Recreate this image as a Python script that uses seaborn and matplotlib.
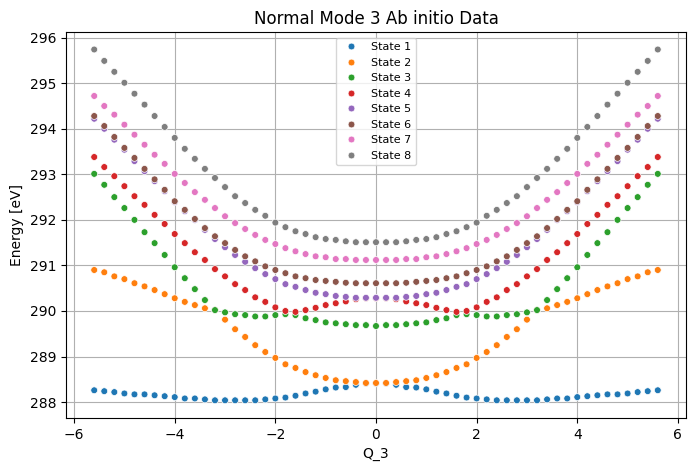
import pandas as pd
import numpy as np
import matplotlib
matplotlib.use("Agg")
import matplotlib.pyplot as plt
import seaborn as sns

# -------------------------
# Data (Q grid and eight electronic states)
# -------------------------
q_values = [-5.6, -5.4, -5.2, -5.0, -4.8, -4.6, -4.4, -4.2, -4.0, -3.8,
            -3.6, -3.4, -3.2, -3.0, -2.8, -2.6, -2.4, -2.2, -2.0, -1.8,
            -1.6, -1.4, -1.2, -1.0, -0.8, -0.6, -0.4, -0.2, 0.0, 0.2,
            0.4, 0.6, 0.8, 1.0, 1.2, 1.4, 1.6, 1.8, 2.0, 2.2,
            2.4, 2.6, 2.8, 3.0, 3.2, 3.4, 3.6, 3.8, 4.0, 4.2,
            4.4, 4.6, 4.8, 5.0, 5.2, 5.4, 5.6]

state_1 = [288.26, 288.24, 288.22, 288.19, 288.17, 288.17, 288.15, 288.13, 288.11, 288.08,
           288.08, 288.06, 288.04, 288.04, 288.04, 288.04, 288.04, 288.06, 288.08, 288.10,
           288.14, 288.19, 288.23, 288.28, 288.32, 288.33, 288.38, 288.41,
           288.41, 288.41, 288.38, 288.33, 288.32, 288.28, 288.23, 288.19, 288.14, 288.10,
           288.08, 288.06, 288.04, 288.04, 288.04, 288.04, 288.04, 288.06, 288.08, 288.08,
           288.11, 288.13, 288.15, 288.17, 288.17, 288.19, 288.22, 288.24, 288.26]

state_2 = [290.90, 290.85, 290.76, 290.70, 290.61, 290.54, 290.46, 290.37, 290.28, 290.20,
           290.13, 290.06, 290.02, 289.81, 289.60, 289.43, 289.25, 289.10, 288.97, 288.83,
           288.75, 288.66, 288.59, 288.53, 288.48, 288.46, 288.44, 288.42,
           288.42, 288.42, 288.44, 288.46, 288.48, 288.53, 288.59, 288.66, 288.75, 288.83,
           288.97, 289.10, 289.25, 289.43, 289.60, 289.81, 290.02, 290.06, 290.13, 290.20,
           290.28, 290.37, 290.46, 290.54, 290.61, 290.70, 290.76, 290.85, 290.90]

state_3 = [293.01, 292.77, 292.50, 292.26, 292.00, 291.73, 291.49, 291.23, 290.96, 290.72,
           290.48, 290.24, 290.02, 289.97, 289.93, 289.91, 289.88, 289.88, 289.91, 289.93,
           289.91, 289.84, 289.80, 289.75, 289.73, 289.71, 289.69, 289.69,
           289.67, 289.69, 289.69, 289.71, 289.73, 289.75, 289.80, 289.84, 289.91, 289.93,
           289.91, 289.88, 289.88, 289.91, 289.93, 289.97, 290.02, 290.24, 290.48, 290.72,
           290.96, 291.23, 291.49, 291.73, 292.00, 292.26, 292.50, 292.77, 293.01]

state_4 = [293.38, 293.16, 292.96, 292.74, 292.52, 292.33, 292.11, 291.91, 291.69, 291.49,
           291.29, 291.12, 290.92, 290.76, 290.59, 290.46, 290.30, 290.20, 290.08, 290.00,
           289.98, 290.02, 290.07, 290.13, 290.17, 290.21, 290.26, 290.28,
           290.28, 290.28, 290.26, 290.21, 290.17, 290.13, 290.07, 290.02, 289.98, 290.00,
           290.08, 290.20, 290.30, 290.46, 290.59, 290.76, 290.92, 291.12, 291.29, 291.49,
           291.69, 291.91, 292.11, 292.33, 292.52, 292.74, 292.96, 293.16, 293.38]

state_5 = [294.22, 294.00, 293.76, 293.54, 293.29, 293.07, 292.85, 292.63, 292.39, 292.19,
           292.00, 291.78, 291.58, 291.40, 291.23, 291.08, 290.94, 290.81, 290.70, 290.59,
           290.53, 290.46, 290.40, 290.37, 290.33, 290.31, 290.29, 290.29,
           290.29, 290.29, 290.29, 290.31, 290.33, 290.37, 290.40, 290.46, 290.53, 290.59,
           290.70, 290.81, 290.94, 291.08, 291.23, 291.40, 291.58, 291.78, 292.00, 292.19,
           292.39, 292.63, 292.85, 293.07, 293.29, 293.54, 293.76, 294.00, 294.22]

state_6 = [294.28, 294.06, 293.82, 293.58, 293.36, 293.12, 292.89, 292.66, 292.41, 292.22,
           292.02, 291.82, 291.64, 291.49, 291.34, 291.20, 291.09, 290.98, 290.90, 290.83,
           290.76, 290.72, 290.68, 290.66, 290.64, 290.62, 290.61, 290.61,
           290.61, 290.61, 290.61, 290.62, 290.64, 290.66, 290.68, 290.72, 290.76, 290.83,
           290.90, 290.98, 291.09, 291.20, 291.34, 291.49, 291.64, 291.82, 292.02, 292.22,
           292.41, 292.66, 292.89, 293.12, 293.36, 293.58, 293.82, 294.06, 294.28]

state_7 = [294.72, 294.50, 294.31, 294.09, 293.87, 293.65, 293.43, 293.23, 293.01, 292.81,
           292.61, 292.44, 292.26, 292.08, 291.93, 291.80, 291.67, 291.56, 291.47, 291.38,
           291.31, 291.25, 291.20, 291.18, 291.14, 291.14, 291.12, 291.12,
           291.12, 291.12, 291.12, 291.14, 291.14, 291.18, 291.20, 291.25, 291.31, 291.38,
           291.47, 291.56, 291.67, 291.80, 291.93, 292.08, 292.26, 292.44, 292.61, 292.81,
           293.01, 293.23, 293.43, 293.65, 293.87, 294.09, 294.31, 294.50, 294.72]

state_8 = [295.74, 295.49, 295.25, 295.01, 294.77, 294.53, 294.28, 294.04, 293.80, 293.56,
           293.34, 293.12, 292.92, 292.72, 292.52, 292.37, 292.22, 292.09, 291.94, 291.84,
           291.75, 291.69, 291.62, 291.58, 291.56, 291.53, 291.51, 291.51,
           291.51, 291.51, 291.51, 291.53, 291.56, 291.58, 291.62, 291.69, 291.75, 291.84,
           291.94, 292.09, 292.22, 292.37, 292.52, 292.72, 292.92, 293.12, 293.34, 293.56,
           293.80, 294.04, 294.28, 294.53, 294.77, 295.01, 295.25, 295.49, 295.74]

state_names = ['State 1', 'State 2', 'State 3', 'State 4',
               'State 5', 'State 6', 'State 7', 'State 8']

# -------------------------
# Long-format table for seaborn
# -------------------------
wide = pd.DataFrame({
    'Q_3': q_values,
    'State 1': state_1, 'State 2': state_2, 'State 3': state_3, 'State 4': state_4,
    'State 5': state_5, 'State 6': state_6, 'State 7': state_7, 'State 8': state_8,
})
df = wide.melt(id_vars='Q_3', var_name='state', value_name='energy')

# -------------------------
# Plot
# -------------------------
fig, ax = plt.subplots(figsize=(6.95, 4.7), dpi=100)
fig.subplots_adjust(left=0.095, right=0.987, top=0.932, bottom=0.111)

sns.scatterplot(data=df, x='Q_3', y='energy', hue='state',
                hue_order=state_names, palette='tab10',
                s=24, edgecolor='white', linewidth=0.5, ax=ax)

ax.grid(True, color='#b0b0b0', linewidth=0.8)
ax.set_axisbelow(True)
ax.set_title('Normal Mode 3 Ab initio Data', fontsize=12)
ax.set_xlabel('Q_3', fontsize=10)
ax.set_ylabel('Energy [eV]', fontsize=10)
ax.legend(loc='upper center', fontsize=8, title=None)

fig.savefig('out.png', dpi=100)
plt.close(fig)
